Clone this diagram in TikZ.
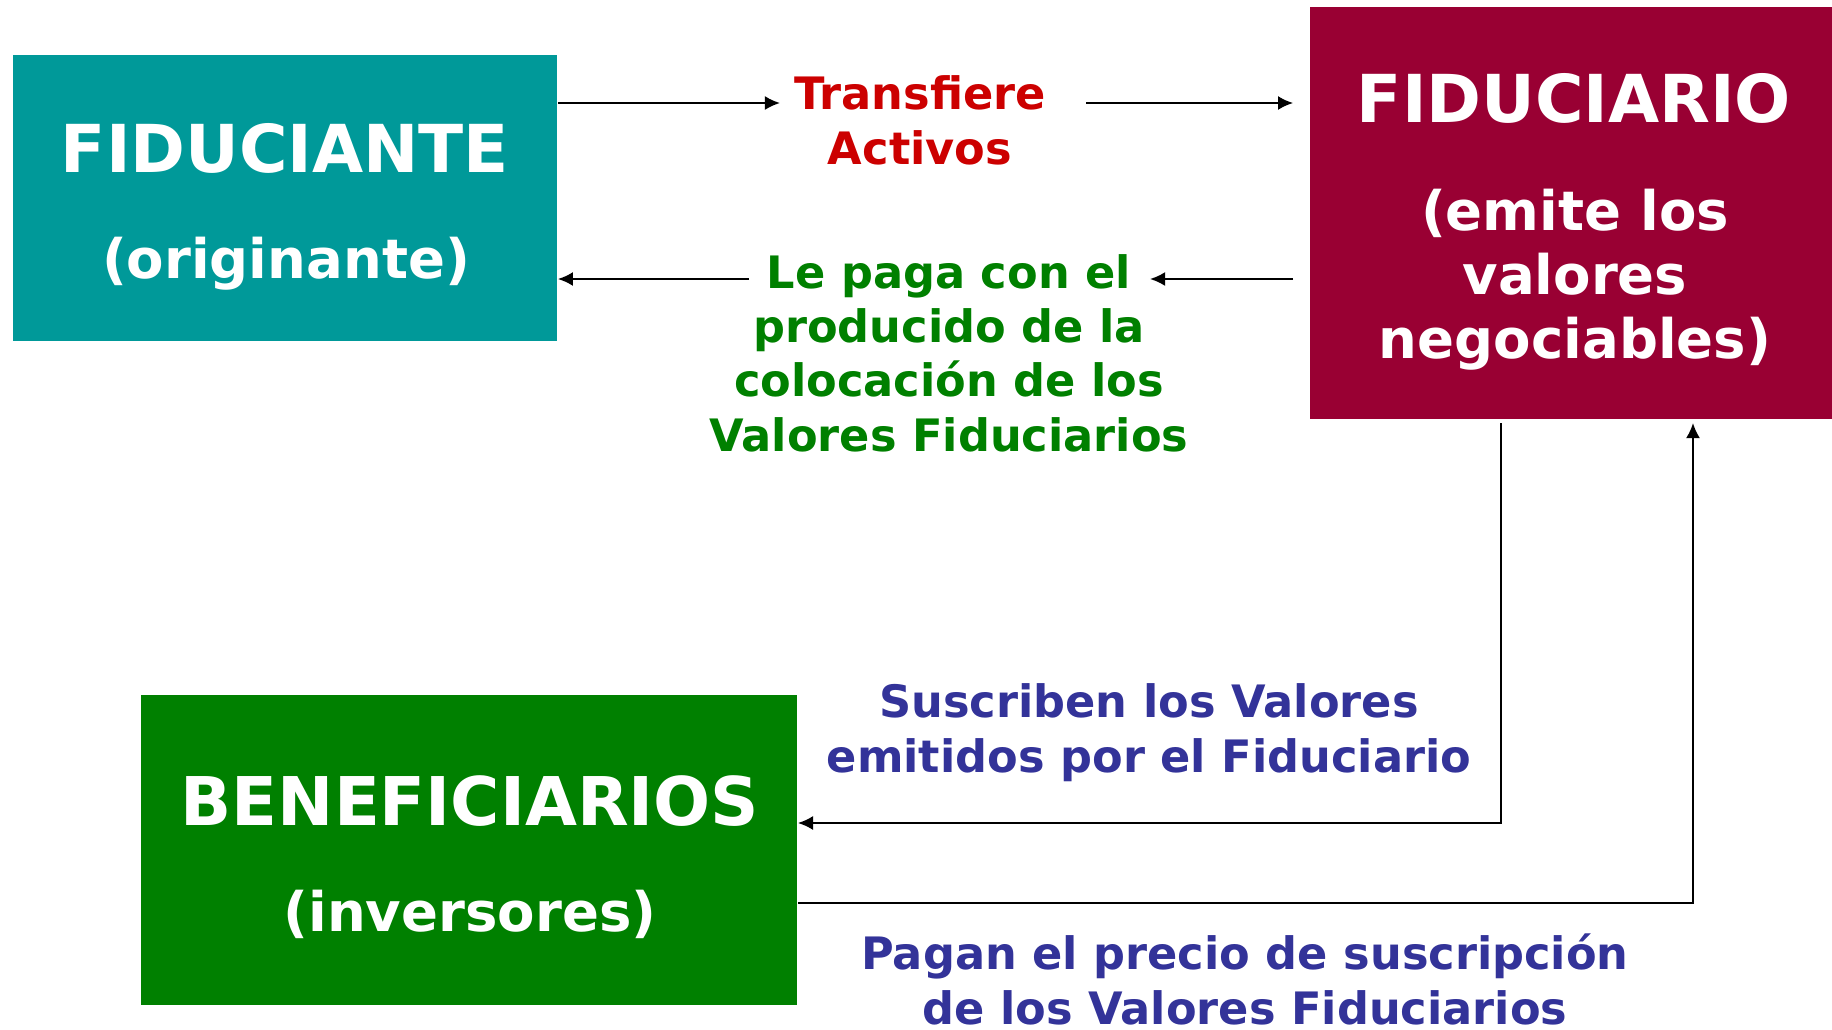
\documentclass[tikz,border=0pt]{standalone}
\usepackage{fontspec}
\setmainfont{DejaVu Sans}
\usetikzlibrary{arrows.meta}
\definecolor{fidteal}{RGB}{0,153,153}
\definecolor{fidmaroon}{RGB}{153,0,51}
\definecolor{fidgreen}{RGB}{0,128,0}
\definecolor{txtred}{RGB}{204,0,0}
\definecolor{txtgreen}{RGB}{0,128,0}
\definecolor{txtblue}{RGB}{51,51,153}
\tikzset{
  caja/.style={rectangle, inner sep=0pt},
  titulo/.style={white, anchor=base, font=\bfseries\fontsize{18.8}{22}\selectfont},
  subtitulo/.style={white, anchor=base, align=center, font=\bfseries\fontsize{15.5}{18.2}\selectfont},
  rotulo/.style={anchor=base, align=center, font=\bfseries\fontsize{12.7}{15.4}\selectfont},
  flecha/.style={-{Latex[length=4.3pt,width=4pt]}, line width=0.6pt}
}
\begin{document}
\begin{tikzpicture}[x=0.01cm, y=-0.01cm]
		\useasboundingbox (0,0) rectangle (1832,1030);
		\node[caja, fill=fidteal, minimum width=5.44cm, minimum height=2.86cm] (fiduciante) at (285,198) {};
		\node[caja, fill=fidmaroon, minimum width=5.22cm, minimum height=4.12cm] (fiduciario) at (1571,213) {};
		\node[caja, fill=fidgreen, minimum width=6.56cm, minimum height=3.10cm] (beneficiarios) at (469,850) {};
		
		\node[titulo] (fiduciante titulo) at (285,172) {FIDUCIANTE};
		\node[subtitulo] (fiduciante sub) at (286,278) {(originante)};
		\node[titulo] (fiduciario titulo) at (1574,122) {FIDUCIARIO};
		\node[subtitulo] (fiduciario sub) at (1575,358) {(emite los\\valores\\negociables)};
		\node[titulo, font=\bfseries\fontsize{19.1}{22}\selectfont] (beneficiarios titulo) at (470,825) {BENEFICIARIOS};
		\node[subtitulo] (beneficiarios sub) at (470,931) {(inversores)};
		
		\node[rotulo, txtred] (transfiere) at (920,164) {Transfiere\\Activos};
		\node[rotulo, txtgreen] (lepaga) at (949,451) {Le paga con el\\producido de la\\colocación de los\\Valores Fiduciarios};
		\node[rotulo, txtblue] (suscriben) at (1149,772) {Suscriben los Valores\\emitidos por el Fiduciario};
		\node[rotulo, txtblue] (pagan) at (1245,1024) {Pagan el precio de suscripción\\de los Valores Fiduciarios};
		
		\coordinate (t1) at (780,103);
		\coordinate (t2) at (1086,103);
		\coordinate (p1) at (749,279);
		\coordinate (p2) at (1150,279);
		\coordinate (s1) at (1501,423);
		\coordinate (s2) at (1501,823);
		\coordinate (q1) at (1693,903);
		\coordinate (q2) at (1693,423);
		
		\draw[flecha] (fiduciante.east |- t1) -- (t1);
		\draw[flecha] (t2) -- ([xshift=-0.16cm]fiduciario.west |- t2);
		\draw[flecha] (p1) -- (fiduciante.east |- p1);
		\draw[flecha] ([xshift=-0.16cm]fiduciario.west |- p2) -- (p2);
		\draw[flecha] (s1) -- (s2) -- (beneficiarios.east |- s2);
		\draw[flecha] (beneficiarios.east |- q1) -- (q1) -- (q2);
\end{tikzpicture}
\end{document}
